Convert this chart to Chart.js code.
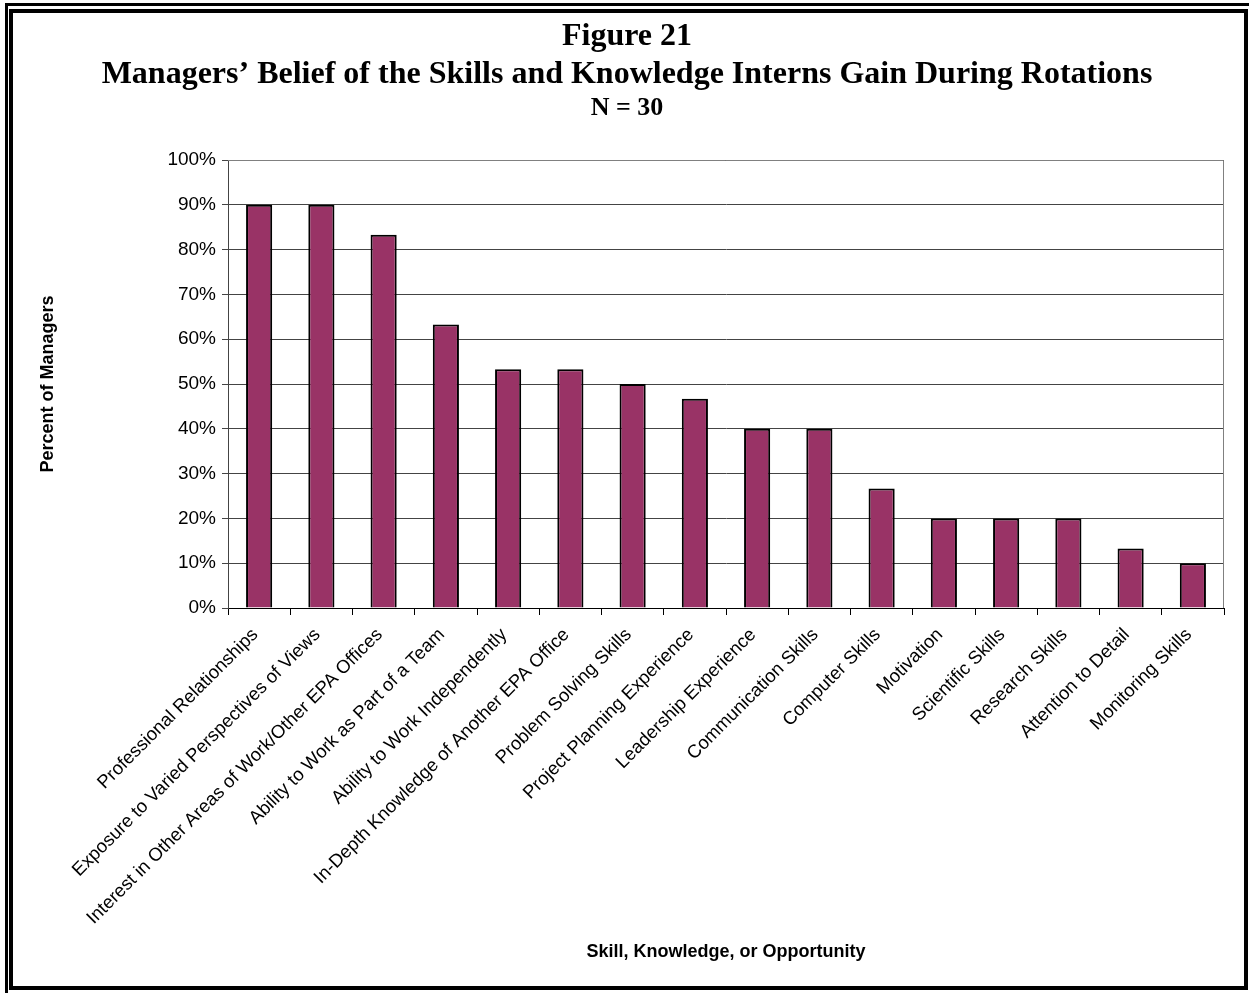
<!DOCTYPE html>
<html>
<head>
<meta charset="utf-8">
<script src="https://cdn.jsdelivr.net/npm/chart.js@4.4.1/dist/chart.umd.min.js"></script>
<style>
  html, body { margin: 0; padding: 0; background: #fff; }
  #wrap { position: relative; width: 1249px; height: 993px; overflow: hidden; }
  #chart { position: absolute; left: 0; top: 0; }
  /* double frame around the figure */
  .outer { position: absolute; left: 5px; top: 3px; right: -10px; bottom: -10px;
           border-top: 3px solid #000; border-left: 3px solid #000; pointer-events: none; }
  .inner { position: absolute; left: 9px; top: 9px; width: 1231px; height: 973px;
           border: 4px solid #000; pointer-events: none; }
</style>
</head>
<body>
<div id="wrap">
  <canvas id="chart" width="1249" height="993"></canvas>
  <div class="outer"></div>
  <div class="inner"></div>
</div>
<script>
const skills = [
  'Professional Relationships',
  'Exposure to Varied Perspectives of Views',
  'Interest in Other Areas of Work/Other EPA Offices',
  'Ability to Work as Part of a Team',
  'Ability to Work Independently',
  'In-Depth Knowledge of Another EPA Office',
  'Problem Solving Skills',
  'Project Planning Experience',
  'Leadership Experience',
  'Communication Skills',
  'Computer Skills',
  'Motivation',
  'Scientific Skills',
  'Research Skills',
  'Attention to Detail',
  'Monitoring Skills'
];
const percentManagers = [90, 90, 83.3, 63.3, 53.3, 53.3, 50, 46.7, 40, 40, 26.7, 20, 20, 20, 13.3, 10];
const yTicks = [0, 10, 20, 30, 40, 50, 60, 70, 80, 90, 100];

const sans = '"Liberation Sans", Arial, sans-serif';
const serif = '"Liberation Serif", "Times New Roman", serif';

// gray box round the plot area
const plotBorder = {
  id: 'plotBorder',
  afterDraw(chart) {
    const a = chart.chartArea, ctx = chart.ctx;
    ctx.save();
    ctx.strokeStyle = '#808080';
    ctx.lineWidth = 1;
    ctx.beginPath();
    ctx.moveTo(a.left, a.top + 0.5);
    ctx.lineTo(a.right - 0.5, a.top + 0.5);
    ctx.lineTo(a.right - 0.5, a.bottom);
    ctx.stroke();
    ctx.restore();
  }
};

new Chart(document.getElementById('chart'), {
  type: 'bar',
  data: {
    labels: skills,
    datasets: [{
      data: percentManagers,
      backgroundColor: '#993366',
      borderColor: '#000',
      borderWidth: 2,
      barPercentage: 0.42,
      categoryPercentage: 1
    }]
  },
  options: {
    responsive: false,
    animation: false,
    layout: { padding: { left: 30, right: 25, top: 18, bottom: 30 } },
    plugins: {
      legend: { display: false },
      tooltip: { enabled: false },
      title: {
        display: true,
        text: ['Figure 21', 'Managers’ Belief of the Skills and Knowledge Interns Gain During Rotations'],
        color: '#000',
        font: { family: serif, size: 32, weight: 'bold', lineHeight: 38 / 32 },
        padding: 0
      },
      subtitle: {
        display: true,
        text: 'N = 30',
        color: '#000',
        font: { family: serif, size: 26, weight: 'bold', lineHeight: 28 / 26 },
        padding: { top: 0, bottom: 38 }
      }
    },
    scales: {
      x: {
        afterFit(s) { s.height = 355; },
        grid: { drawOnChartArea: false, drawTicks: true, tickLength: 7, color: '#000' },
        border: { color: '#000', width: 1 },
        ticks: {
          autoSkip: false, maxRotation: 45, minRotation: 45, padding: 9, labelOffset: -4,
          color: '#000', font: { family: sans, size: 18.5 }
        },
        title: {
          display: true, text: 'Skill, Knowledge, or Opportunity', color: '#000',
          font: { family: sans, size: 18, weight: 'bold' }, padding: { top: 0, bottom: 0 }
        }
      },
      y: {
        min: 0, max: 100,
        afterFit(s) { s.width = 198; },
        afterBuildTicks(s) { s.ticks = yTicks.map(v => ({ value: v })); },
        grid: { color: '#444', drawTicks: true, tickLength: 6 },
        border: { color: '#444', width: 1 },
        ticks: {
          padding: 6, color: '#000', font: { family: sans, size: 19 },
          callback: v => v + '%'
        },
        title: {
          display: true, text: 'Percent of Managers', color: '#000',
          font: { family: sans, size: 18, weight: 'bold' }, padding: { top: 7, bottom: 0 }
        }
      }
    }
  },
  plugins: [plotBorder]
});
</script>
</body>
</html>
